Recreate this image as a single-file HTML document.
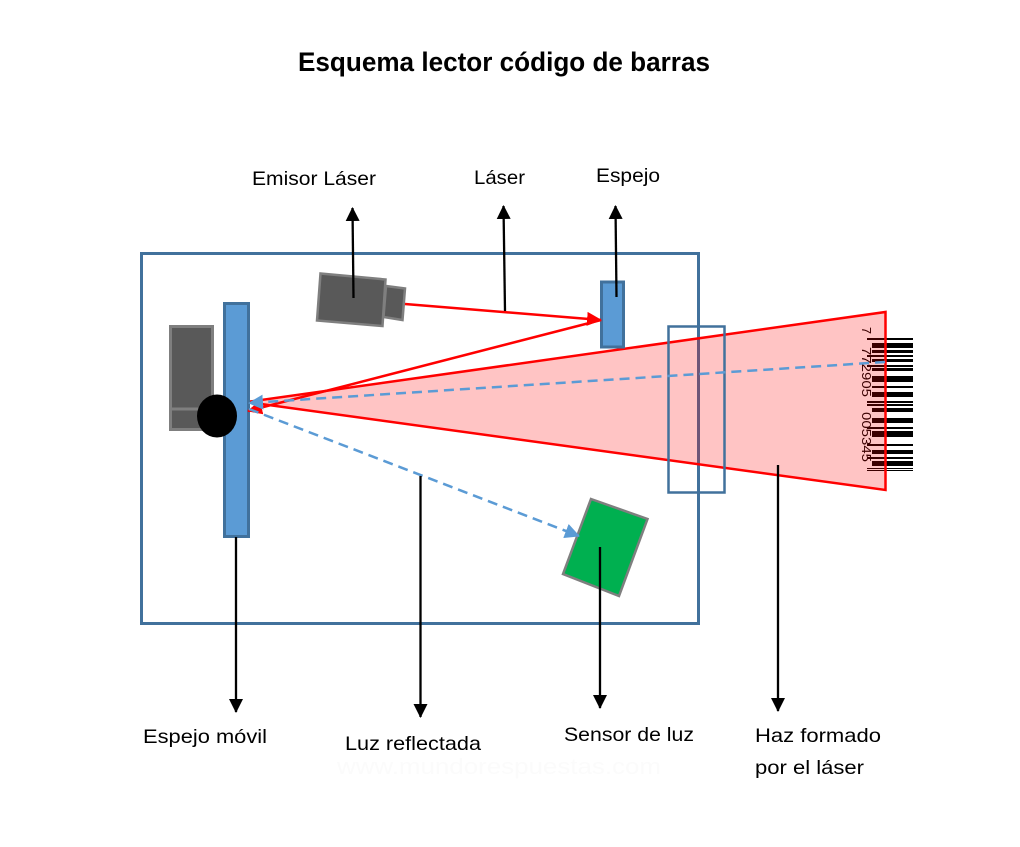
<!DOCTYPE html>
<html lang="es"><head><meta charset="utf-8"><title>Esquema lector código de barras</title>
<style>html,body{margin:0;padding:0;background:#fff}svg{display:block}text{font-family:"Liberation Sans",sans-serif;fill:#000;font-size:19.500px}</style>
</head><body>
<svg width="1020" height="847" viewBox="0 0 1020 847" xmlns="http://www.w3.org/2000/svg">
<defs>
<marker id="k" markerUnits="userSpaceOnUse" markerWidth="14" markerHeight="14" refX="13" refY="7" orient="auto"><path d="M0 0L14 7L0 14Z" fill="#000"/></marker>
<marker id="r" markerUnits="userSpaceOnUse" markerWidth="15" markerHeight="14" refX="14" refY="7" orient="auto"><path d="M0 0L15 7L0 14Z" fill="#f00"/></marker>
<marker id="b" markerUnits="userSpaceOnUse" markerWidth="15" markerHeight="15" refX="14" refY="7.500" orient="auto"><path d="M0 0L15 7.500L0 15Z" fill="#5b9bd5"/></marker>
</defs>
<rect width="1020" height="847" fill="#fff"/>
<text x="298" y="71" font-weight="bold" style="font-size:26.500px" textLength="412" lengthAdjust="spacingAndGlyphs">Esquema lector código de barras</text>
<text x="337" y="774" style="font-size:22px;fill:#fbfbfb" textLength="324" lengthAdjust="spacingAndGlyphs">www.mundorespuestas.com</text>

<rect x="141.500" y="253.500" width="557" height="370" fill="none" stroke="#41719c" stroke-width="3"/>

<!-- barcode -->
<g fill="#000">
<rect x="867" y="338" width="46" height="2"/><rect x="872" y="343" width="41" height="5"/><rect x="872" y="350" width="41" height="3"/><rect x="867" y="355" width="46" height="2"/><rect x="872" y="359" width="41" height="3"/><rect x="867" y="365" width="46" height="2"/><rect x="872" y="368" width="41" height="3"/><rect x="872" y="376" width="41" height="6"/><rect x="872" y="386" width="41" height="2"/><rect x="872" y="392" width="41" height="5"/><rect x="867" y="401" width="46" height="2"/><rect x="867" y="404" width="46" height="2"/><rect x="872" y="408" width="41" height="4"/><rect x="872" y="418" width="41" height="5"/><rect x="867" y="427" width="46" height="2"/><rect x="872" y="431" width="41" height="6"/><rect x="867" y="444" width="46" height="2"/><rect x="872" y="450" width="41" height="4"/><rect x="867" y="457" width="46" height="2"/><rect x="872" y="461" width="41" height="5"/><rect x="867" y="468" width="46" height="1"/><rect x="867" y="470" width="46" height="1"/>
</g>
<text transform="translate(862,327) rotate(90)" style="font-size:12.500px">7</text>
<text transform="translate(862,347) rotate(90)" style="font-size:12.500px" textLength="50" lengthAdjust="spacingAndGlyphs">772905</text>
<text transform="translate(862,412) rotate(90)" style="font-size:12.500px" textLength="50" lengthAdjust="spacingAndGlyphs">005345</text>

<!-- beam -->
<polygon points="247,402 885.500,312 885.500,490" fill="#ff0000" fill-opacity=".23" stroke="#f00" stroke-width="2.500"/>

<rect x="668.500" y="326.500" width="56" height="166" fill="none" stroke="#41719c" stroke-width="2.500"/>

<!-- moving mirror -->
<rect x="170.500" y="326.500" width="42" height="103" fill="#595959" stroke="#7f7f7f" stroke-width="3"/>
<line x1="170" y1="409" x2="213" y2="409" stroke="#7f7f7f" stroke-width="3"/>
<rect x="224.500" y="303.500" width="24" height="233" fill="#5b9bd5" stroke="#41719c" stroke-width="3"/>
<ellipse cx="217" cy="416" rx="20" ry="21.500" fill="#000"/>

<!-- laser emitter -->
<g fill="#595959" stroke="#7f7f7f" stroke-width="2.500">
<polygon points="320.500,273.500 385.500,279.500 382.500,326 317,320.500"/>
<polygon points="386,286 405,288.500 402.500,320 383.500,317"/>
</g>

<!-- small mirror -->
<rect x="601.500" y="282" width="22" height="65" fill="#5b9bd5" stroke="#41719c" stroke-width="3"/>

<!-- sensor -->
<polygon points="591,499 647.500,519 619,596 563,574" fill="#00b050" stroke="#7f7f7f" stroke-width="2.500"/>

<!-- red rays -->
<line x1="405" y1="304" x2="601" y2="320" stroke="#f00" stroke-width="2.500" marker-end="url(#r)"/>
<line x1="601" y1="320" x2="248" y2="411" stroke="#f00" stroke-width="2.500" marker-end="url(#r)"/>

<!-- blue dashed -->
<line x1="885" y1="362" x2="249" y2="403" stroke="#5b9bd5" stroke-width="2.500" stroke-dasharray="10 6" marker-end="url(#b)"/>
<line x1="249" y1="409" x2="579" y2="536" stroke="#5b9bd5" stroke-width="2.500" stroke-dasharray="10 6" marker-end="url(#b)"/>

<!-- black arrows -->
<g stroke="#000" stroke-width="2.300" fill="none">
<line x1="353.500" y1="298" x2="352.500" y2="208" marker-end="url(#k)"/>
<line x1="505" y1="311" x2="503.500" y2="206" marker-end="url(#k)"/>
<line x1="616.500" y1="297" x2="615.500" y2="206" marker-end="url(#k)"/>
<line x1="236" y1="537" x2="236" y2="712" marker-end="url(#k)"/>
<line x1="420.500" y1="476" x2="420.500" y2="717" marker-end="url(#k)"/>
<line x1="600" y1="547" x2="600" y2="708" marker-end="url(#k)"/>
<line x1="778" y1="465" x2="778" y2="711" marker-end="url(#k)"/>
</g>

<!-- labels -->
<text x="252" y="185" textLength="124" lengthAdjust="spacingAndGlyphs">Emisor Láser</text>
<text x="474" y="184" textLength="51" lengthAdjust="spacingAndGlyphs">Láser</text>
<text x="596" y="182" textLength="64" lengthAdjust="spacingAndGlyphs">Espejo</text>
<text x="143" y="743" textLength="124" lengthAdjust="spacingAndGlyphs">Espejo móvil</text>
<text x="345" y="750" textLength="136" lengthAdjust="spacingAndGlyphs">Luz reflectada</text>
<text x="564" y="741" textLength="130" lengthAdjust="spacingAndGlyphs">Sensor de luz</text>
<text x="755" y="742" textLength="126" lengthAdjust="spacingAndGlyphs">Haz formado</text>
<text x="755" y="774" textLength="109" lengthAdjust="spacingAndGlyphs">por el láser</text>
</svg>
</body></html>
